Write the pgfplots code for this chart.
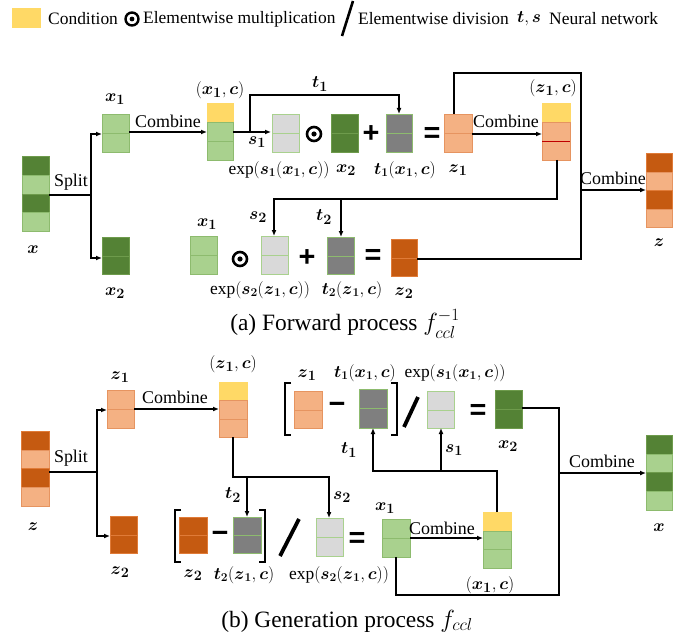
\documentclass[border=0pt]{standalone}
\usepackage{amsmath,amssymb}
\usepackage{fontspec}
\setmainfont{Liberation Serif}
\newfontfamily\opfont{Liberation Sans}
\usepackage{pgfplots}
\pgfplotsset{compat=1.18}
\usetikzlibrary{arrows.meta}

\definecolor{dgreen}{HTML}{548235}
\definecolor{lgreen}{HTML}{A9D18E}
\definecolor{dorange}{HTML}{C55A11}
\definecolor{lorange}{HTML}{F4B183}
\definecolor{cyellow}{HTML}{FFD966}
\definecolor{lgray}{HTML}{D9D9D9}
\definecolor{dgray}{HTML}{7F7F7F}
\definecolor{bgreen}{HTML}{8DBB6E}
\definecolor{bdgreen}{HTML}{6E9B4C}
\definecolor{borange}{HTML}{E69460}
\definecolor{bdorange}{HTML}{E07B38}

\newcommand{\B}[1]{\boldsymbol{#1}}
\newcommand{\lbl}{\fontsize{18}{20}\selectfont}
\newcommand{\mlbl}{\fontsize{19}{21}\selectfont}
\newcommand{\elbl}{\fontsize{17.5}{20}\selectfont}
\newcommand{\opf}{\opfont\bfseries\fontsize{29}{29}\selectfont}
\newcommand{\cell}[6]{\filldraw[fill=#5,draw=#6,line width=0.8bp] (axis cs:#1,#2) rectangle (axis cs:#3,#4);}

\begin{document}
\begin{tikzpicture}
\begin{axis}[
  x=1bp, y=1bp, y dir=reverse,
  xmin=0, xmax=694, ymin=0, ymax=641,
  scale only axis, hide axis, clip=false,
  conn/.style={black, line width=1.3bp, no markers},
  arr/.style={black, line width=1.3bp, no markers, -{Latex[length=6bp,width=5bp]}},
]
% ---------- legend ----------
\cell{12}{8}{40}{27}{cyellow}{cyellow}
\node[font=\fontsize{17.5}{20}\selectfont, anchor=west, inner sep=0] at (axis cs:48,19) {Condition};
\draw[line width=2.4bp] (axis cs:132,19) circle[radius=6.5bp];
\fill (axis cs:132,19) circle[radius=2.4bp];
\node[font=\fontsize{17.5}{20}\selectfont, anchor=west, inner sep=0] at (axis cs:143,19) {Elementwise multiplication};
\draw[line width=2.6bp] (axis cs:353,1) -- (axis cs:342,36);
\node[font=\fontsize{17.5}{20}\selectfont, anchor=west, inner sep=0] at (axis cs:358,19) {Elementwise division};
\node[font=\mlbl, anchor=west, inner sep=0] at (axis cs:517,19) {$\B{t},\B{s}$};
\node[font=\fontsize{17.5}{20}\selectfont, anchor=west, inner sep=0] at (axis cs:549,19) {Neural network};

% ---------- (a) forward process ----------
% x
\cell{22}{156}{49}{175}{dgreen}{bdgreen}
\cell{22}{175}{49}{194}{lgreen}{bgreen}
\cell{22}{194}{49}{212}{dgreen}{bdgreen}
\cell{22}{212}{49}{231}{lgreen}{bgreen}
% x1, x2
\cell{102}{114}{129}{133}{lgreen}{bgreen}
\cell{102}{133}{129}{152}{lgreen}{bgreen}
\cell{102}{237}{129}{256}{dgreen}{bdgreen}
\cell{102}{256}{129}{274}{dgreen}{bdgreen}
% (x1,c)
\cell{207}{103}{233}{122}{cyellow}{cyellow}
\cell{207}{122}{233}{141}{lgreen}{bgreen}
\cell{207}{141}{233}{160}{lgreen}{bgreen}
% s1 result, x2, t1
\cell{272}{114}{299}{133}{lgray}{lgreen}
\cell{272}{133}{299}{152}{lgray}{lgreen}
\cell{331}{114}{358}{133}{dgreen}{bdgreen}
\cell{331}{133}{358}{152}{dgreen}{bdgreen}
\cell{386}{114}{412}{133}{dgray}{bgreen}
\cell{386}{133}{412}{152}{dgray}{bgreen}
% z1
\cell{444}{114}{472}{133}{lorange}{borange}
\cell{444}{133}{472}{152}{lorange}{borange}
% (z1,c)
\cell{542}{103}{570}{122}{cyellow}{cyellow}
\cell{542}{122}{570}{141}{lorange}{borange}
\cell{542}{141}{570}{160}{lorange}{borange}
\draw[red!75!black, line width=0.8bp] (axis cs:542,141) -- (axis cs:570,141);
% bottom row
\cell{190}{236}{217}{255}{lgreen}{bgreen}
\cell{190}{255}{217}{274}{lgreen}{bgreen}
\cell{261}{236}{288}{255}{lgray}{lgreen}
\cell{261}{255}{288}{274}{lgray}{lgreen}
\cell{327}{237}{354}{256}{dgray}{bgreen}
\cell{327}{256}{354}{274}{dgray}{bgreen}
\cell{391}{239}{417}{258}{dorange}{bdorange}
\cell{391}{258}{417}{276}{dorange}{bdorange}
% z
\cell{646}{153}{672}{172}{dorange}{bdorange}
\cell{646}{172}{672}{190}{lorange}{borange}
\cell{646}{190}{672}{209}{dorange}{bdorange}
\cell{646}{209}{672}{227}{lorange}{borange}

% connectors (a)
\addplot[arr] coordinates {(49,195) (91,195) (91,134) (102,134)};
\addplot[arr] coordinates {(91,195) (91,258) (102,258)};
\addplot[arr] coordinates {(129,132) (207,132)};
\addplot[arr] coordinates {(233,132) (271,132)};
\addplot[arr] coordinates {(250,132) (250,95) (399,95) (399,114)};
\addplot[conn] coordinates {(454,114) (454,73) (581,73) (581,259) (417,259)};
\addplot[arr] coordinates {(581,190) (646,190)};
\addplot[arr] coordinates {(472,134) (542,134)};
\addplot[arr] coordinates {(557,160) (557,199) (274,199) (274,236)};
\addplot[arr] coordinates {(341,199) (341,237)};

% operators (a)
\draw[line width=2.6bp] (axis cs:314,134) circle[radius=7bp];
\fill (axis cs:314,134) circle[radius=2.6bp];
\draw[line width=2.6bp] (axis cs:240,259) circle[radius=7bp];
\fill (axis cs:240,259) circle[radius=2.6bp];
\node[font=\opf, inner sep=0] at (axis cs:371,134) {+};
\node[font=\opf, inner sep=0] at (axis cs:307,258) {+};
\node[font=\opf, inner sep=0] at (axis cs:432,135) {=};
\node[font=\opf, inner sep=0] at (axis cs:373,257) {=};

% labels (a)
\node[font=\lbl] at (axis cs:71,182) {Split};
\node[font=\mlbl] at (axis cs:33,250) {$\B{x}$};
\node[font=\mlbl] at (axis cs:115,99) {$\B{x}_{\B{1}}$};
\node[font=\mlbl] at (axis cs:115,293) {$\B{x}_{\B{2}}$};
\node[font=\lbl] at (axis cs:168,121) {Combine};
\node[font=\mlbl] at (axis cs:220,90) {$(\B{x}_{\B{1}},\B{c})$};
\node[font=\mlbl] at (axis cs:320,84) {$\B{t}_{\B{1}}$};
\node[font=\mlbl] at (axis cs:257,142) {$\B{s}_{\B{1}}$};
\node[font=\elbl] at (axis cs:279,170) {$\mathrm{exp}(\B{s}_{\B{1}}(\B{x}_{\B{1}},\B{c}))$};
\node[font=\mlbl] at (axis cs:346,170) {$\B{x}_{\B{2}}$};
\node[font=\elbl] at (axis cs:405,170) {$\B{t}_{\B{1}}(\B{x}_{\B{1}},\B{c})$};
\node[font=\mlbl] at (axis cs:458,170) {$\B{z}_{\B{1}}$};
\node[font=\lbl] at (axis cs:506,121) {Combine};
\node[font=\mlbl] at (axis cs:553,88) {$(\B{z}_{\B{1}},\B{c})$};
\node[font=\lbl] at (axis cs:613,178) {Combine};
\node[font=\mlbl] at (axis cs:659,243) {$\B{z}$};
\node[font=\mlbl] at (axis cs:258,217) {$\B{s}_{\B{2}}$};
\node[font=\mlbl] at (axis cs:324,217) {$\B{t}_{\B{2}}$};
\node[font=\mlbl] at (axis cs:207,224) {$\B{x}_{\B{1}}$};
\node[font=\elbl] at (axis cs:260,290) {$\mathrm{exp}(\B{s}_{\B{2}}(\B{z}_{\B{1}},\B{c}))$};
\node[font=\elbl] at (axis cs:352,290) {$\B{t}_{\B{2}}(\B{z}_{\B{1}},\B{c})$};
\node[font=\mlbl] at (axis cs:404,293) {$\B{z}_{\B{2}}$};
\node[font=\fontsize{23.5}{26}\selectfont] at (axis cs:345,324) {(a) Forward process $f_{ccl}^{-1}$};

% ---------- (b) generation process ----------
% z
\cell{21}{431}{49}{450}{dorange}{bdorange}
\cell{21}{450}{49}{468}{lorange}{borange}
\cell{21}{468}{49}{487}{dorange}{bdorange}
\cell{21}{487}{49}{506}{lorange}{borange}
% z1, z2
\cell{107}{390}{134}{409}{lorange}{borange}
\cell{107}{409}{134}{428}{lorange}{borange}
\cell{110}{516}{137}{535}{dorange}{bdorange}
\cell{110}{535}{137}{553}{dorange}{bdorange}
% (z1,c)
\cell{219}{382}{247}{400}{cyellow}{cyellow}
\cell{219}{400}{247}{419}{lorange}{borange}
\cell{219}{419}{247}{437}{lorange}{borange}
% bottom row
\cell{179}{517}{207}{535}{dorange}{bdorange}
\cell{179}{535}{207}{553}{dorange}{bdorange}
\cell{233}{517}{261}{535}{dgray}{bgreen}
\cell{233}{535}{261}{553}{dgray}{bgreen}
\cell{316}{518}{343}{537}{lgray}{lgreen}
\cell{316}{537}{343}{556}{lgray}{lgreen}
\cell{382}{519}{410}{538}{lgreen}{bgreen}
\cell{382}{538}{410}{557}{lgreen}{bgreen}
% (x1,c)
\cell{483}{512}{511}{531}{cyellow}{cyellow}
\cell{483}{531}{511}{549}{lgreen}{bgreen}
\cell{483}{549}{511}{568}{lgreen}{bgreen}
% top row
\cell{294}{391}{322}{410}{lorange}{borange}
\cell{294}{410}{322}{428}{lorange}{borange}
\cell{359}{389}{387}{408}{dgray}{bgreen}
\cell{359}{408}{387}{428}{dgray}{bgreen}
\cell{427}{391}{454}{410}{lgray}{lgreen}
\cell{427}{410}{454}{428}{lgray}{lgreen}
\cell{495}{390}{522}{409}{dgreen}{bdgreen}
\cell{495}{409}{522}{428}{dgreen}{bdgreen}
% x
\cell{646}{435}{672}{454}{dgreen}{bdgreen}
\cell{646}{454}{672}{472}{lgreen}{bgreen}
\cell{646}{472}{672}{491}{dgreen}{bdgreen}
\cell{646}{491}{672}{510}{lgreen}{bgreen}

% connectors (b)
\addplot[arr] coordinates {(49,472) (97,472) (97,410) (107,410)};
\addplot[arr] coordinates {(97,472) (97,536) (110,536)};
\addplot[arr] coordinates {(134,409) (219,409)};
\addplot[arr] coordinates {(233,437) (233,477) (329,477) (329,518)};
\addplot[arr] coordinates {(247,477) (247,517)};
\addplot[arr] coordinates {(410,538) (483,538)};
\addplot[conn] coordinates {(396,557) (396,595) (559,595) (559,408) (522,408)};
\addplot[arr] coordinates {(559,473) (646,473)};
\addplot[arr] coordinates {(497,512) (497,471) (373,471) (373,428)};
\addplot[arr] coordinates {(441,471) (441,428)};

% brackets, minus, slashes, equals (b)
\draw[line width=1.4bp] (axis cs:181,510) -- (axis cs:175,510) -- (axis cs:175,562) -- (axis cs:181,562);
\draw[line width=1.4bp] (axis cs:259,510) -- (axis cs:265,510) -- (axis cs:265,562) -- (axis cs:259,562);
\draw[line width=1.4bp] (axis cs:291,383) -- (axis cs:285,383) -- (axis cs:285,435) -- (axis cs:291,435);
\draw[line width=1.4bp] (axis cs:391,383) -- (axis cs:397,383) -- (axis cs:397,435) -- (axis cs:391,435);
\draw[line width=3.8bp] (axis cs:280,556) -- (axis cs:299,519);
\draw[line width=3.8bp] (axis cs:404,427) -- (axis cs:418,397);
\node[font=\opf, inner sep=0] at (axis cs:220,537) {\char"2212};
\node[font=\opf, inner sep=0] at (axis cs:337,408) {\char"2212};
\node[font=\opf, inner sep=0] at (axis cs:357,540) {=};
\node[font=\opf, inner sep=0] at (axis cs:478,412) {=};

% labels (b)
\node[font=\lbl] at (axis cs:71,458) {Split};
\node[font=\mlbl] at (axis cs:33,527) {$\B{z}$};
\node[font=\mlbl] at (axis cs:120,377) {$\B{z}_{\B{1}}$};
\node[font=\mlbl] at (axis cs:120,572) {$\B{z}_{\B{2}}$};
\node[font=\lbl] at (axis cs:175,397) {Combine};
\node[font=\mlbl] at (axis cs:233,364) {$(\B{z}_{\B{1}},\B{c})$};
\node[font=\mlbl] at (axis cs:233,495) {$\B{t}_{\B{2}}$};
\node[font=\mlbl] at (axis cs:342,497) {$\B{s}_{\B{2}}$};
\node[font=\mlbl] at (axis cs:193,575) {$\B{z}_{\B{2}}$};
\node[font=\elbl] at (axis cs:244,575) {$\B{t}_{\B{2}}(\B{z}_{\B{1}},\B{c})$};
\node[font=\elbl] at (axis cs:339,575) {$\mathrm{exp}(\B{s}_{\B{2}}(\B{z}_{\B{1}},\B{c}))$};
\node[font=\mlbl] at (axis cs:385,508) {$\B{x}_{\B{1}}$};
\node[font=\lbl] at (axis cs:442,528) {Combine};
\node[font=\mlbl] at (axis cs:490,585) {$(\B{x}_{\B{1}},\B{c})$};
\node[font=\mlbl] at (axis cs:307,375) {$\B{z}_{\B{1}}$};
\node[font=\elbl] at (axis cs:365,373) {$\B{t}_{\B{1}}(\B{x}_{\B{1}},\B{c})$};
\node[font=\elbl] at (axis cs:455,373) {$\mathrm{exp}(\B{s}_{\B{1}}(\B{x}_{\B{1}},\B{c}))$};
\node[font=\mlbl] at (axis cs:508,446) {$\B{x}_{\B{2}}$};
\node[font=\mlbl] at (axis cs:349,450) {$\B{t}_{\B{1}}$};
\node[font=\mlbl] at (axis cs:454,450) {$\B{s}_{\B{1}}$};
\node[font=\lbl] at (axis cs:602,461) {Combine};
\node[font=\mlbl] at (axis cs:659,528) {$\B{x}$};
\node[font=\fontsize{23.5}{26}\selectfont] at (axis cs:347,621) {(b) Generation process $f_{ccl}$};
\end{axis}
\pgfresetboundingbox
\path[use as bounding box] (current axis.south west) rectangle (current axis.north east);
\end{tikzpicture}
\end{document}
